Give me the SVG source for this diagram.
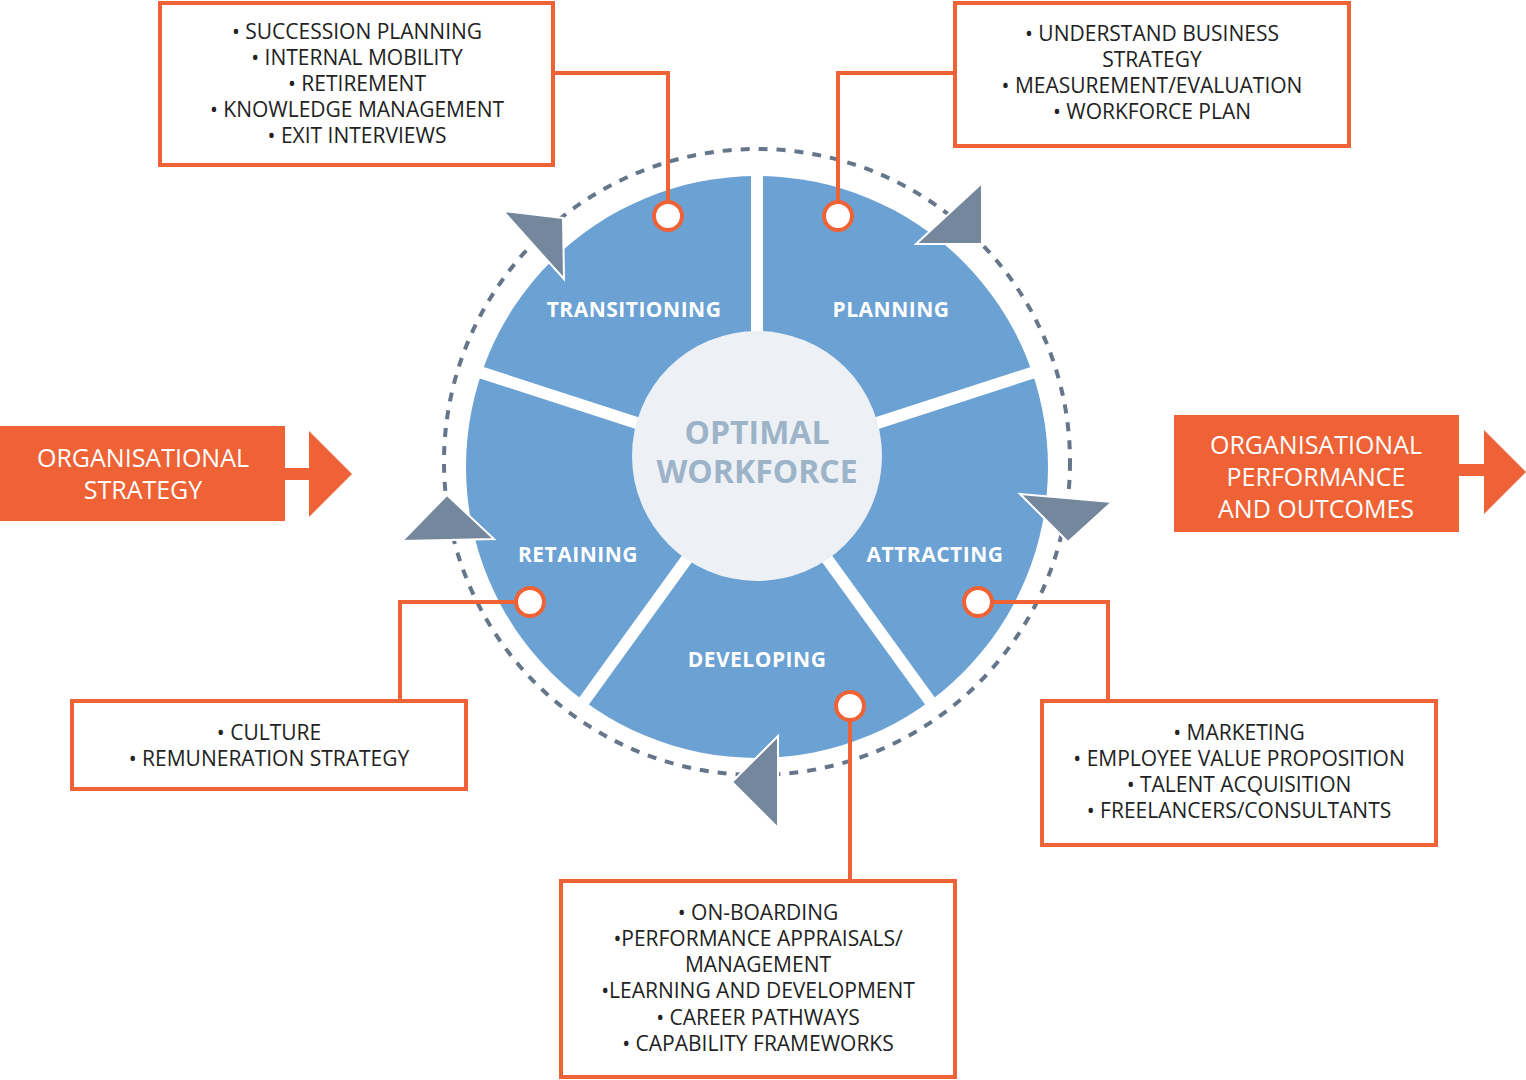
<svg xmlns="http://www.w3.org/2000/svg" width="1526" height="1080" viewBox="0 0 1526 1080">
<style>
.box{fill:#fff;stroke:#ef6236;stroke-width:4}
.con{fill:none;stroke:#ef6236;stroke-width:4}
.dot{fill:#fff;stroke:#ef6236;stroke-width:4}
.t{font-family:"Open Sans","Liberation Sans",sans-serif;font-size:21px;fill:#222;text-anchor:middle}
.seg{font-family:"Open Sans","Liberation Sans",sans-serif;font-size:21px;font-weight:bold;fill:#fff;text-anchor:middle;letter-spacing:0.5px}
.ow{font-family:"Open Sans","Liberation Sans",sans-serif;font-size:25px;fill:#fff;text-anchor:middle}
.tri{fill:#74879d;stroke:#fff;stroke-width:2}
.or{fill:#ef6236}
</style>
<rect width="1526" height="1080" fill="#fff"/>
<g id="cycle">
<circle cx="757" cy="462" r="313" fill="none" stroke="#66768a" stroke-width="4" stroke-dasharray="9 9"/>
<circle cx="757" cy="467" r="291" fill="#6ba1d3"/>
<g stroke="#fff" stroke-width="12">
<line x1="757" y1="462" x2="757" y2="160"/>
<line x1="757" y1="462" x2="1050" y2="367"/>
<line x1="757" y1="462" x2="935" y2="708"/>
<line x1="757" y1="462" x2="579" y2="708"/>
<line x1="757" y1="462" x2="464" y2="367"/>
</g>
<circle cx="757" cy="456" r="125" fill="#edf1f5"/>
<polygon class="tri" points="503,211 563,218 564,279"/>
<polygon class="tri" points="982,183 982,244 916,244"/>
<polygon class="tri" points="1020,494 1112,502 1068,542"/>
<polygon class="tri" points="778,736 732,782 778,828"/>
<polygon class="tri" points="402,541 494,539 447,495"/>
</g>
<g id="center"><text x="757" y="444" font-family="Open Sans,Liberation Sans,sans-serif" font-size="32" font-weight="bold" fill="#9db3c8" text-anchor="middle">OPTIMAL</text><text x="757" y="483" font-family="Open Sans,Liberation Sans,sans-serif" font-size="32" font-weight="bold" fill="#9db3c8" text-anchor="middle">WORKFORCE</text></g>
<g id="seg-labels">
<text class="seg" x="634" y="317">TRANSITIONING</text>
<text class="seg" x="891" y="317">PLANNING</text>
<text class="seg" x="935" y="562">ATTRACTING</text>
<text class="seg" x="757" y="667">DEVELOPING</text>
<text class="seg" x="578" y="562">RETAINING</text>
</g>
<g id="connectors">
<polyline class="con" points="553,73 668,73 668,202"/>
<polyline class="con" points="955,73 838,73 838,202"/>
<polyline class="con" points="400,701 400,602 516,602"/>
<polyline class="con" points="1108,701 1108,602 992,602"/>
<polyline class="con" points="850,881 850,720"/>
<circle class="dot" cx="668" cy="216" r="14"/>
<circle class="dot" cx="838" cy="216" r="14"/>
<circle class="dot" cx="530" cy="602" r="14"/>
<circle class="dot" cx="978" cy="602" r="14"/>
<circle class="dot" cx="850" cy="706" r="14"/>
</g>
<g id="box-transitioning"><rect class="box" x="160" y="3" width="393" height="162"/>
<text class="t" x="357" y="39">• SUCCESSION PLANNING</text><text class="t" x="357" y="65">• INTERNAL MOBILITY</text><text class="t" x="357" y="91">• RETIREMENT</text><text class="t" x="357" y="117">• KNOWLEDGE MANAGEMENT</text><text class="t" x="357" y="143">• EXIT INTERVIEWS</text></g>
<g id="box-planning"><rect class="box" x="955" y="3" width="394" height="143"/>
<text class="t" x="1152" y="41">• UNDERSTAND BUSINESS</text><text class="t" x="1152" y="67">STRATEGY</text><text class="t" x="1152" y="93">• MEASUREMENT/EVALUATION</text><text class="t" x="1152" y="119">• WORKFORCE PLAN</text></g>
<g id="box-retaining"><rect class="box" x="72" y="701" width="394" height="88"/>
<text class="t" x="269" y="740">• CULTURE</text><text class="t" x="269" y="766">• REMUNERATION STRATEGY</text></g>
<g id="box-attracting"><rect class="box" x="1042" y="701" width="394" height="144"/>
<text class="t" x="1239" y="740">• MARKETING</text><text class="t" x="1239" y="766">• EMPLOYEE VALUE PROPOSITION</text><text class="t" x="1239" y="792">• TALENT ACQUISITION</text><text class="t" x="1239" y="818">• FREELANCERS/CONSULTANTS</text></g>
<g id="box-developing"><rect class="box" x="561" y="881" width="394" height="196"/>
<text class="t" x="758" y="920">• ON-BOARDING</text><text class="t" x="758" y="946">•PERFORMANCE APPRAISALS/</text><text class="t" x="758" y="972">MANAGEMENT</text><text class="t" x="758" y="998">•LEARNING AND DEVELOPMENT</text><text class="t" x="758" y="1025">• CAREER PATHWAYS</text><text class="t" x="758" y="1051">• CAPABILITY FRAMEWORKS</text></g>
<g id="org-strategy"><rect class="or" x="0" y="426" width="285" height="95"/><rect class="or" x="284" y="468" width="26" height="12"/><polygon class="or" points="309,431 352,474 309,517"/>
<text class="ow" x="143" y="467">ORGANISATIONAL</text><text class="ow" x="143" y="499">STRATEGY</text></g>
<g id="org-performance"><rect class="or" x="1174" y="415" width="285" height="117"/><rect class="or" x="1458" y="464" width="27" height="12"/><polygon class="or" points="1484,430 1526,472 1484,514"/>
<text class="ow" x="1316" y="454">ORGANISATIONAL</text><text class="ow" x="1316" y="486">PERFORMANCE</text><text class="ow" x="1316" y="518">AND OUTCOMES</text></g>
</svg>
